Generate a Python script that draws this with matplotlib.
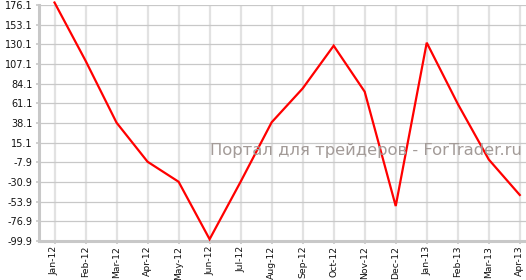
import matplotlib
matplotlib.use("Agg")
import matplotlib.pyplot as plt

months = ["Jan-12", "Feb-12", "Mar-12", "Apr-12", "May-12", "Jun-12", "Jul-12",
          "Aug-12", "Sep-12", "Oct-12", "Nov-12", "Dec-12", "Jan-13", "Feb-13",
          "Mar-13", "Apr-13"]
values = [179.0, 111.0, 38.5, -7.2, -30.6, -97.8, -30.6, 38.9, 78.5, 128.5,
          74.7, -59.0, 132.0, 60.5, -4.6, -46.1]
y_ticks = [-99.9, -76.9, -53.9, -30.9, -7.9, 15.1, 38.1, 61.1, 84.1, 107.1,
           130.1, 153.1, 176.1]
watermark = "Портал для трейдеров - ForTrader.ru"

W, H = 526, 280
fig = plt.figure(figsize=(W / 100, H / 100), dpi=100)
left_px, right_px, top_px, bottom_px = 39, 535.3, 5, 241
ax = fig.add_axes([left_px / W, (H - bottom_px) / H,
                   (right_px - left_px) / W, (bottom_px - top_px) / H])

x = list(range(len(months)))
ax.set_xlim(-0.5, len(months) - 0.5)
ax.set_ylim(y_ticks[0], y_ticks[-1])

ax.set_yticks(y_ticks)
ax.set_yticklabels([f"{v:.1f}" for v in y_ticks])
ax.set_xticks(x)
ax.set_xticklabels(months, rotation=90)

for v in y_ticks:
    ax.axhline(v, color="#c8c8c8", lw=0.9, zorder=1)
for xi in x:
    ax.axvline(xi, color="#e2e2e2", lw=1.6, zorder=0.9)

ax.plot(x, values, color="#ff0000", lw=1.6, zorder=3, clip_on=False,
        solid_joinstyle="miter")

for s in ["top", "right"]:
    ax.spines[s].set_visible(False)
for s in ["left", "bottom"]:
    ax.spines[s].set_color("#c8c8c8")
    ax.spines[s].set_linewidth(2.2)
    ax.spines[s].set_zorder(2)

ax.tick_params(axis="both", colors="#c8c8c8", length=2.5, width=1.2,
               labelcolor="#111111")
ax.tick_params(axis="y", pad=2, labelsize=7)
ax.tick_params(axis="x", pad=1, labelsize=6.7)

fig.text(210 / W, 1 - 150 / H, watermark, color="#a39b98", fontsize=11.8,
         ha="left", va="center", zorder=2)

fig.savefig("out.png", dpi=100)
